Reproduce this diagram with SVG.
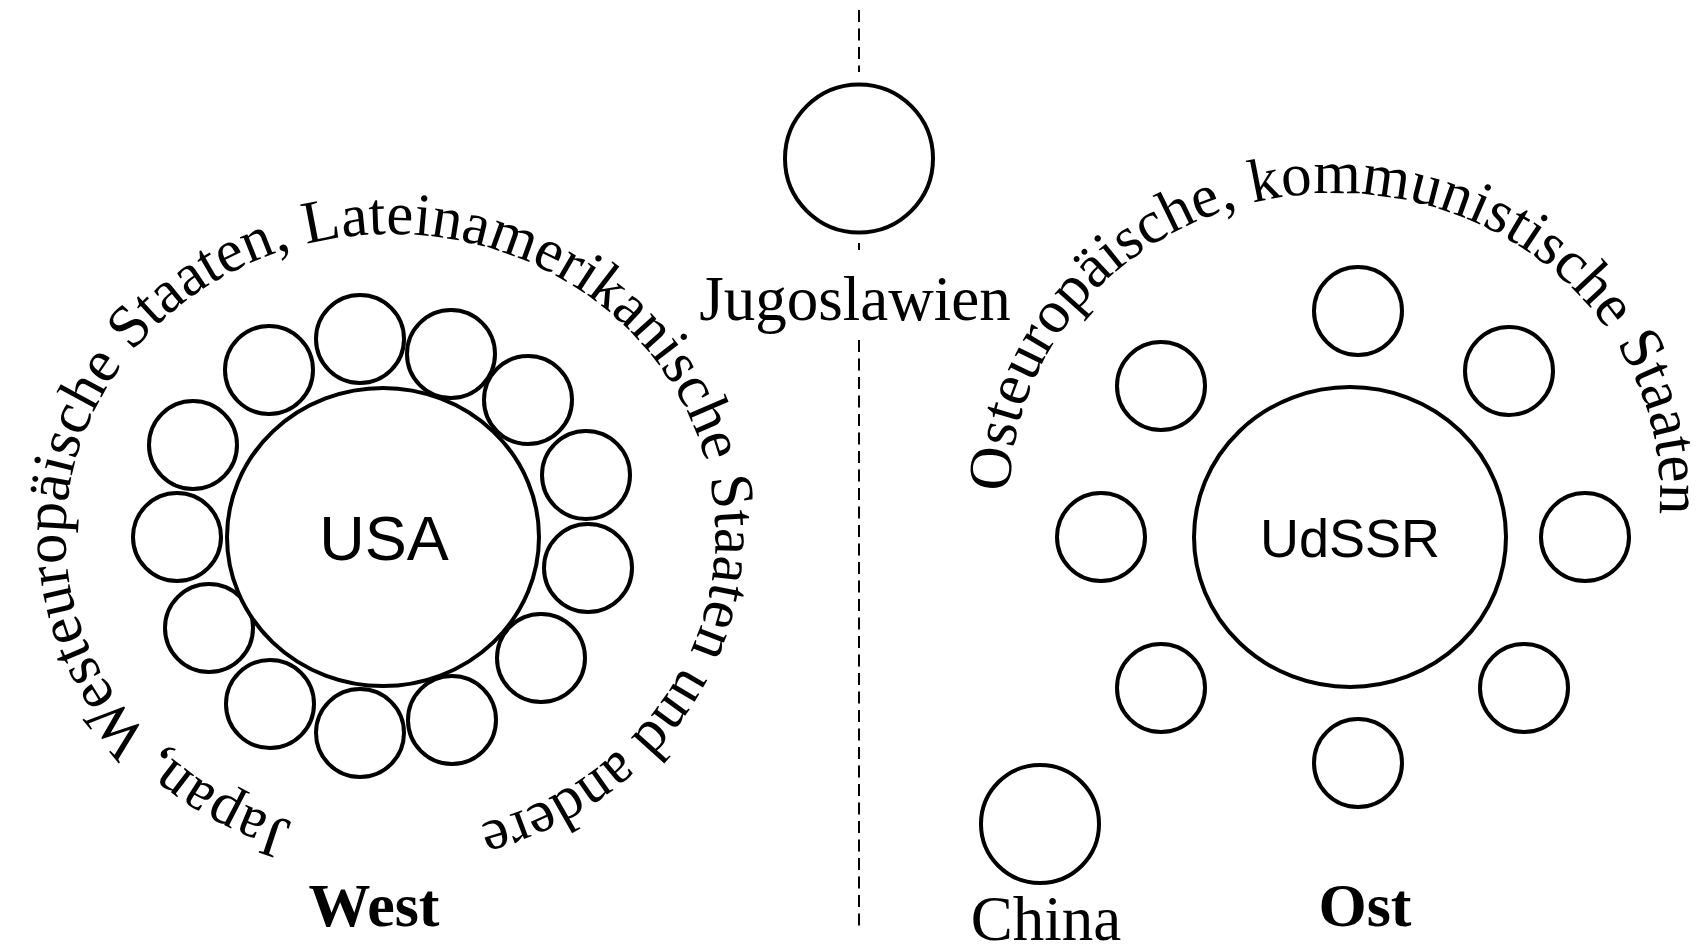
<svg xmlns="http://www.w3.org/2000/svg" xmlns:xlink="http://www.w3.org/1999/xlink" width="1702" height="947" viewBox="0 0 1702 947">
<style>
.c{fill:#fff;stroke:#000;stroke-width:4}
.serif{font-family:"Liberation Serif","Times New Roman",serif;fill:#000}
.sans{font-family:"Liberation Sans",Arial,sans-serif;fill:#000}
.arc{font-family:"Liberation Serif","Times New Roman",serif;fill:#000}
.dash{stroke:#000;stroke-width:2;stroke-dasharray:12 6.5;fill:none}
</style>
<defs>
<path id="westArc" d="M 292.2 821.8 A 325 301 0 1 1 351.4 833.7"/>
<path id="eastArc" d="M 1010 492 A 325 301 0 1 1 1616.5 644.5"/>
</defs>
<rect width="1702" height="947" fill="#fff"/>
<g id="connectors">
<line class="dash" x1="859" y1="10" x2="859" y2="72"/>
<line class="dash" x1="859" y1="243" x2="859" y2="250"/>
<line class="dash" x1="859" y1="340" x2="859" y2="928"/>
</g>
<g id="west">
<g id="usa-allies">
<circle class="c" cx="269" cy="370" r="44"/>
<circle class="c" cx="360" cy="339" r="44"/>
<circle class="c" cx="451" cy="354" r="44"/>
<circle class="c" cx="528" cy="400" r="44"/>
<circle class="c" cx="586" cy="475" r="44"/>
<circle class="c" cx="588" cy="568" r="44"/>
<circle class="c" cx="541" cy="658" r="44"/>
<circle class="c" cx="452" cy="720" r="44"/>
<circle class="c" cx="360" cy="733" r="44"/>
<circle class="c" cx="270" cy="704" r="44"/>
<circle class="c" cx="209" cy="628" r="44"/>
<circle class="c" cx="177" cy="537" r="44"/>
<circle class="c" cx="193" cy="445" r="44"/>
</g>
<g id="usa">
<ellipse class="c" cx="383" cy="537" rx="156" ry="149"/>
<text class="sans" x="384" y="560" font-size="63" text-anchor="middle">USA</text>
</g>
<text class="arc" font-size="60.5"><textPath xlink:href="#westArc" href="#westArc">Japan, Westeuropäische Staaten, Lateinamerikanische Staaten und andere</textPath></text>
<text class="serif" x="374" y="926" font-size="62" font-weight="bold" text-anchor="middle">West</text>
</g>
<g id="jugoslawien">
<circle class="c" cx="859" cy="158.5" r="74"/>
<text class="serif" x="855" y="320" font-size="63" text-anchor="middle">Jugoslawien</text>
</g>
<g id="east">
<g id="udssr-allies">
<circle class="c" cx="1358" cy="311" r="44"/>
<circle class="c" cx="1161" cy="386" r="44"/>
<circle class="c" cx="1509" cy="371" r="44"/>
<circle class="c" cx="1101" cy="537" r="44"/>
<circle class="c" cx="1585" cy="537" r="44"/>
<circle class="c" cx="1161" cy="688" r="44"/>
<circle class="c" cx="1524" cy="688" r="44"/>
<circle class="c" cx="1358" cy="763" r="44"/>
</g>
<g id="udssr">
<ellipse class="c" cx="1350" cy="537" rx="156" ry="150"/>
<text class="sans" x="1350" y="557" font-size="54" text-anchor="middle">UdSSR</text>
</g>
<text class="arc" font-size="61"><textPath xlink:href="#eastArc" href="#eastArc">Osteuropäische, kommunistische Staaten</textPath></text>
<g id="china">
<circle class="c" cx="1040" cy="824" r="59"/>
<text class="serif" x="1046" y="940" font-size="63" text-anchor="middle">China</text>
</g>
<text class="serif" x="1365" y="926" font-size="62" font-weight="bold" text-anchor="middle">Ost</text>
</g>
</svg>
